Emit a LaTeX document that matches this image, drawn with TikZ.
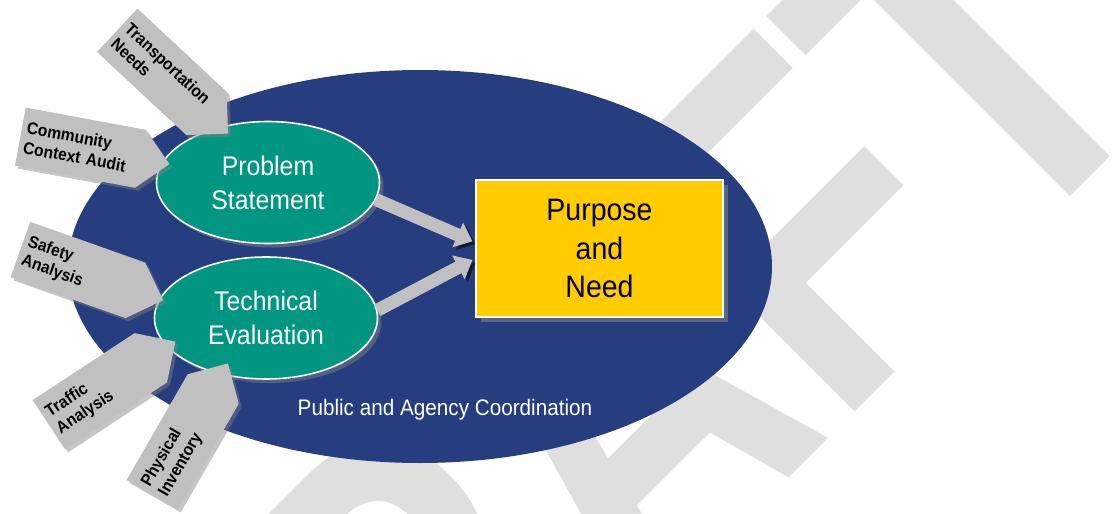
\documentclass[tikz,border=0pt]{standalone}
\usepackage{fontspec}
\setmainfont{Liberation Sans}
\newfontfamily\narrowfont[FakeStretch=0.92]{Liberation Sans}
\newfontfamily\draftfont[FakeStretch=0.79]{Liberation Sans}
\usetikzlibrary{shapes.geometric,shapes.symbols,shadows,arrows.meta}

\definecolor{planblue}{HTML}{263D80}
\definecolor{evalgreen}{HTML}{009682}
\definecolor{needyellow}{HTML}{FFCC00}
\definecolor{inputgray}{HTML}{C0C0C0}
\definecolor{draftgray}{HTML}{DFDFDF}

\tikzset{
  task/.style={ellipse, draw=white, line width=0.8pt, fill=evalgreen, text=white,
    minimum width=111.5pt, minimum height=61pt, inner sep=0pt, align=center,
    font=\narrowfont\fontsize{13.5}{17}\selectfont,
    drop shadow={shadow xshift=2pt, shadow yshift=-2pt, opacity=.5}},
  input/.style={signal, signal to=east, signal pointer angle=90, fill=inputgray,
    minimum height=29.5pt, text width=56pt, inner xsep=2.5pt, align=left, anchor=west,
    font=\narrowfont\bfseries\fontsize{8.5}{10}\selectfont,
    drop shadow={shadow xshift=1.5pt, shadow yshift=-1.5pt, opacity=.45}},
  flow/.style={draw=inputgray, line width=6.5pt, -{Triangle[length=8pt,width=13pt]},
    shorten >=1.5pt,
    preaction={draw=black, opacity=.45, transform canvas={shift={(1.5pt,-1.5pt)}}}}
}

\begin{document}
\begin{tikzpicture}[x=0.5pt,y=-0.5pt]
  \useasboundingbox (0,0) rectangle (1116,514);
  % watermark in the background
  \begin{scope}
    \clip (0,0) rectangle (1116,514);
    \node[rotate=45, anchor=base west, inner sep=0pt, text=draftgray,
      font=\draftfont\bfseries\fontsize{248.5}{250}\selectfont] (draft) at (234.6,1032.5) {DRAFT};
  \end{scope}

  \node[ellipse, fill=planblue, minimum width=352pt, minimum height=196.5pt] (coord) at (420,266.5) {};
  \node[text=white, font=\narrowfont\fontsize{11.25}{13}\selectfont] (coordlabel) at (445,410) {Public and Agency Coordination};

  \node[task] (prob) at (268,182.5) {Problem\\Statement};
  \node[task] (tech) at (266,318) {Technical\\Evaluation};

  \node[rectangle, draw=white, line width=0.8pt, fill=needyellow, minimum width=123.5pt,
    minimum height=68.5pt, align=center, font=\narrowfont\fontsize{15.5}{19.3}\selectfont,
    drop shadow={shadow xshift=2.5pt, shadow yshift=-2.5pt, opacity=.6}] (pn) at (599.5,248.5) {Purpose\\and\\Need};

  \draw[flow] (prob.-9) -- ([yshift=3pt]pn.west);
  \draw[flow] (tech.4) -- ([yshift=-5pt]pn.west);

  % inputs
  \node[input, rotate=-43] (needs) at (117,30) {Transportation\\Needs};
  \node[input, rotate=-10.5] (audit) at (20,136.5) {Community\\Context Audit};
  \node[input, rotate=-19.5] (safety) at (20,249.5) {Safety\\Analysis};
  \node[input, rotate=33.3] (traffic) at (48.5,425) {Traffic\\Analysis};
  \node[input, rotate=60] (inventory) at (152,495) {Physical\\Inventory};
\end{tikzpicture}
\end{document}
